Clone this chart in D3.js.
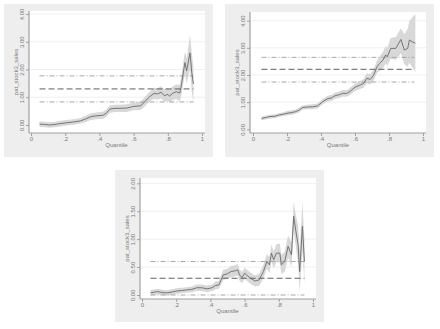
<!DOCTYPE html>
<html>
<head>
<meta charset="utf-8">
<script src="https://cdn.jsdelivr.net/npm/d3@7"></script>
<style>
  html, body { margin: 0; padding: 0; background: #fff; }
  svg text { font-family: "Liberation Sans", Arial, sans-serif; }
</style>
</head>
<body>
<div id="chart"></div>
<script>
// quantile grid, estimate, and band for each panel
const q1 = [0.05,0.08,0.11,0.14,0.17,0.21,0.25,0.29,0.32,0.35,0.38,0.42,0.44,0.46,0.49,0.52,0.56,0.6,0.64,0.66,0.68,0.7,0.72,0.74,0.76,0.78,0.8,0.81,0.83,0.85,0.87,0.88,0.9,0.91,0.93,0.94,0.95];
const v1 = [0.03,0.02,0.0,0.02,0.05,0.08,0.11,0.15,0.22,0.3,0.33,0.35,0.42,0.57,0.6,0.6,0.61,0.67,0.69,0.8,0.94,1.05,1.14,1.12,1.18,1.06,1.1,1.04,1.15,1.2,1.15,1.45,2.25,1.95,2.6,1.9,1.48];
const lo1 = [-0.07,-0.08,-0.1,-0.08,-0.05,-0.02,0.01,0.05,0.11,0.18,0.21,0.22,0.29,0.44,0.47,0.47,0.47,0.53,0.54,0.64,0.77,0.87,0.94,0.92,0.96,0.84,0.87,0.8,0.9,0.94,0.85,1.1,1.85,1.5,2.0,1.2,0.8];
const hi1 = [0.13,0.12,0.1,0.12,0.15,0.18,0.21,0.25,0.33,0.42,0.45,0.48,0.55,0.7,0.73,0.73,0.75,0.81,0.84,0.96,1.11,1.23,1.34,1.32,1.4,1.28,1.33,1.28,1.4,1.46,1.45,1.8,2.65,2.4,3.25,2.6,2.1];
const ref1 = [0.83, 1.30, 1.77];   // lower, mean, upper

const q2 = [0.05,0.08,0.1,0.13,0.15,0.18,0.2,0.23,0.25,0.27,0.29,0.32,0.35,0.38,0.41,0.44,0.46,0.48,0.51,0.53,0.55,0.57,0.6,0.63,0.65,0.67,0.69,0.71,0.73,0.745,0.765,0.78,0.79,0.81,0.84,0.87,0.89,0.91,0.92,0.935,0.955];
const v2 = [0.4,0.44,0.47,0.48,0.52,0.56,0.59,0.62,0.65,0.7,0.8,0.82,0.83,0.86,1.02,1.13,1.15,1.23,1.28,1.33,1.32,1.39,1.55,1.63,1.69,1.88,1.84,2.0,2.31,2.43,2.55,2.74,2.67,2.98,2.98,3.31,2.92,2.98,3.29,3.23,3.17];
const lo2 = [0.33,0.37,0.4,0.41,0.45,0.49,0.51,0.54,0.57,0.62,0.72,0.74,0.74,0.77,0.92,1.02,1.04,1.12,1.16,1.21,1.2,1.26,1.41,1.48,1.53,1.7,1.65,1.79,2.08,2.16,2.25,2.42,2.34,2.6,2.56,2.8,2.4,2.3,2.45,2.3,2.1];
const hi2 = [0.47,0.51,0.54,0.55,0.59,0.63,0.67,0.7,0.73,0.78,0.88,0.9,0.92,0.95,1.12,1.24,1.26,1.34,1.4,1.45,1.44,1.52,1.69,1.78,1.85,2.06,2.03,2.21,2.54,2.7,2.85,3.06,3.0,3.36,3.4,3.72,3.5,3.7,4.0,4.1,4.25];
const ref2 = [1.74, 2.21, 2.65];

const q3 = [0.05,0.07,0.09,0.11,0.13,0.15,0.17,0.2,0.23,0.26,0.29,0.32,0.35,0.38,0.41,0.43,0.45,0.475,0.5,0.52,0.54,0.56,0.57,0.585,0.6,0.63,0.66,0.685,0.71,0.73,0.745,0.757,0.77,0.786,0.806,0.815,0.835,0.854,0.874,0.887,0.9,0.913,0.922,0.938,0.95];
const v3 = [0.04,0.05,0.06,0.05,0.04,0.04,0.05,0.07,0.08,0.09,0.1,0.13,0.13,0.11,0.13,0.17,0.18,0.36,0.38,0.42,0.43,0.45,0.36,0.31,0.39,0.31,0.25,0.27,0.42,0.6,0.54,0.75,0.63,0.75,0.75,0.54,0.6,0.87,0.72,1.41,1.14,0.9,0.42,1.23,0.6];
const lo3 = [-0.01,0.0,0.01,0.0,-0.01,-0.01,0.0,0.02,0.03,0.04,0.05,0.07,0.07,0.05,0.07,0.1,0.11,0.27,0.29,0.32,0.33,0.35,0.26,0.21,0.29,0.21,0.15,0.16,0.3,0.47,0.4,0.6,0.48,0.59,0.58,0.37,0.42,0.67,0.5,1.15,0.85,0.55,0.05,0.8,0.2];
const hi3 = [0.09,0.1,0.11,0.1,0.09,0.09,0.1,0.12,0.13,0.14,0.15,0.19,0.19,0.17,0.19,0.24,0.25,0.45,0.47,0.52,0.53,0.55,0.46,0.41,0.49,0.41,0.35,0.38,0.54,0.73,0.68,0.9,0.78,0.91,0.92,0.71,0.78,1.07,0.94,1.67,1.43,1.25,0.79,1.66,1.0];
const ref3 = [0.0, 0.30, 0.60];

const refSpan = [0.05, 0.95];
const xTicks = [0, 0.2, 0.4, 0.6, 0.8, 1];
const yTicks4 = [0, 1, 2, 3, 4];
const yTicks2 = [0, 0.5, 1, 1.5, 2];
const yTitle = "pat_stock3_sales";
const xTitle = "Quantile";

const panels = [
    { q: q1, v: v1, lo: lo1, hi: hi1, ref: ref1, yTicks: yTicks4,
      box: [4, 4, 209, 153], plot: [29, 11, 205, 133], xr: [31, 202], yr: [125, 14] },
    { q: q2, v: v2, lo: lo2, hi: hi2, ref: ref2, yTicks: yTicks4,
      box: [225, 4, 209, 153], plot: [250, 12, 426, 133], xr: [253, 423], yr: [129.3, 20.7] },
    { q: q3, v: v3, lo: lo3, hi: hi3, ref: ref3, yTicks: yTicks2,
      box: [115, 170, 209, 152], plot: [140, 178, 316, 299], xr: [142, 313], yr: [295, 183.3] }
];

const svg = d3.select("#chart").append("svg")
    .attr("width", 440)
    .attr("height", 329)
    .style("display", "block");

const font = "Liberation Sans, Arial, sans-serif";
const xFmt = d => d === 0 ? "0" : d === 1 ? "1" : d3.format(".1f")(d).replace(/^0/, "");
const yFmt = d3.format(".2f");
const textCol = "#7a7a7a";
const axisCol = "#a0a0a0";

panels.forEach(p => {
    const [bx, by, bw, bh] = p.box;
    const [pl, pt, pr, pb] = p.plot;
    const g = svg.append("g");

    // outer graph region
    g.append("rect").attr("x", bx).attr("y", by).attr("width", bw).attr("height", bh)
        .attr("fill", "#eeeeee");
    // plot region
    g.append("rect").attr("x", pl).attr("y", pt).attr("width", pr - pl).attr("height", pb - pt)
        .attr("fill", "#fff");

    const x = d3.scaleLinear().domain([0, 1]).range(p.xr);
    const ymax = p.yTicks[p.yTicks.length - 1];
    const y = d3.scaleLinear().domain([0, ymax]).range(p.yr);

    // grid lines
    g.selectAll(".grid").data(p.yTicks.filter(t => t > 0)).join("line")
        .attr("x1", pl).attr("x2", pr)
        .attr("y1", d => y(d)).attr("y2", d => y(d))
        .attr("stroke", "#efefef").attr("stroke-width", 1);

    const rows = p.q.map((qq, i) => ({ q: qq, v: p.v[i], lo: p.lo[i], hi: p.hi[i] }));

    // confidence band
    g.append("path").datum(rows)
        .attr("d", d3.area().x(d => x(d.q)).y0(d => y(d.lo)).y1(d => y(d.hi)))
        .attr("fill", "#d8d8d8");

    // reference lines
    const dashes = ["5,2,1,2", "6,3", "5,2,1,2"];
    const cols = ["#a8a8a8", "#606060", "#a8a8a8"];
    p.ref.forEach((r, i) => {
        g.append("line")
            .attr("x1", x(refSpan[0])).attr("x2", x(refSpan[1]))
            .attr("y1", y(r)).attr("y2", y(r))
            .attr("stroke", cols[i]).attr("stroke-width", 1)
            .attr("stroke-dasharray", dashes[i]);
    });

    // estimate
    g.append("path").datum(rows)
        .attr("d", d3.line().x(d => x(d.q)).y(d => y(d.v)))
        .attr("fill", "none").attr("stroke", "#6a6a6a").attr("stroke-width", 0.9);

    // axes
    const xa = g.append("g").attr("transform", `translate(0,${pb})`)
        .call(d3.axisBottom(x).tickValues(xTicks).tickFormat(xFmt).tickSize(3).tickPadding(1));
    const ya = g.append("g").attr("transform", `translate(${pl},0)`)
        .call(d3.axisLeft(y).tickValues(p.yTicks).tickFormat(yFmt).tickSize(3));
    [xa, ya].forEach(a => {
        a.attr("font-family", font);
        a.select(".domain").remove();
        a.selectAll("line").attr("stroke", axisCol);
        a.selectAll("text").attr("fill", textCol).style("font-size", "6px");
    });
    ya.selectAll(".tick text")
        .attr("x", null).attr("y", null).attr("dy", null)
        .attr("text-anchor", "middle")
        .attr("transform", "translate(-5,0) rotate(-90)");

    g.append("line").attr("x1", pl).attr("x2", pl).attr("y1", pt).attr("y2", pb)
        .attr("stroke", axisCol).attr("stroke-width", 1.2);
    g.append("line").attr("x1", pl).attr("x2", pr).attr("y1", pb).attr("y2", pb)
        .attr("stroke", axisCol).attr("stroke-width", 1.2);

    // titles
    g.append("text")
        .attr("transform", `translate(${pl - 11.5},${(pt + pb) / 2}) rotate(-90)`)
        .attr("text-anchor", "middle")
        .attr("font-family", font)
        .attr("fill", textCol).style("font-size", "6px")
        .text(yTitle);
    g.append("text")
        .attr("x", x(0.5)).attr("y", pb + 14)
        .attr("text-anchor", "middle")
        .attr("font-family", font)
        .attr("fill", textCol).style("font-size", "6px")
        .text(xTitle);
});
</script>
</body>
</html>
